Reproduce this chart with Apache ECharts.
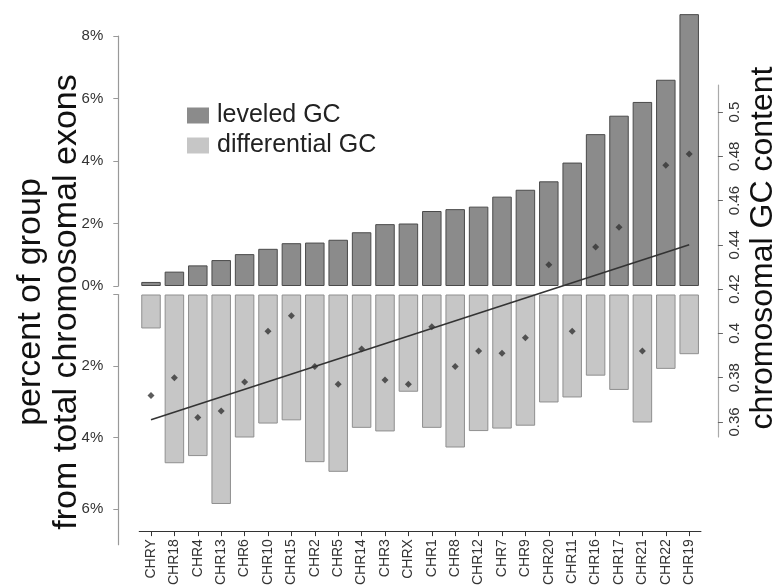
<!DOCTYPE html>
<html>
<head>
<meta charset="utf-8">
<script src="https://cdn.jsdelivr.net/npm/echarts@6/dist/echarts.min.js"></script>
<style>
html,body{margin:0;padding:0;background:#fff;}
#chart{width:777px;height:588px;}
</style>
</head>
<body>
<div id="chart"></div>
<script>
var categories = ['CHRY','CHR18','CHR4','CHR13','CHR6','CHR10','CHR15','CHR2','CHR5','CHR14','CHR3','CHRX','CHR1','CHR8','CHR12','CHR7','CHR9','CHR20','CHR11','CHR16','CHR17','CHR21','CHR22','CHR19'];
var leveledGC = [0.13,0.46,0.66,0.83,1.02,1.19,1.37,1.39,1.48,1.72,1.98,2.00,2.40,2.46,2.54,2.86,3.08,3.35,3.95,4.86,5.45,5.89,6.60,8.70];
var differentialGC = [0.95,4.72,4.52,5.86,4.00,3.61,3.52,4.69,4.96,3.73,3.83,2.72,3.73,4.28,3.82,3.75,3.67,3.02,2.88,2.27,2.67,3.58,2.08,1.67];
var gcContent = [0.372,0.380,0.362,0.365,0.378,0.401,0.408,0.385,0.377,0.393,0.379,0.377,0.403,0.385,0.392,0.391,0.398,0.431,0.401,0.439,0.448,0.392,0.476,0.481];
var trendStart = 0.361, trendEnd = 0.440;
var pctTicksTop = [0,2,4,6,8];
var pctTicksBottom = [0,2,4,6];
var pctLabelsBottom = [2,4,6];
var gcTicks = [0.36,0.38,0.40,0.42,0.44,0.46,0.48,0.50];

var FONT = "'Liberation Sans', Arial, sans-serif";
var GL = 139.3, GW = 561.6;
var chart = echarts.init(document.getElementById('chart'), null, {renderer:'canvas'});

function hiddenX(gi){
  return {type:'category', gridIndex:gi, data:categories, show:false, boundaryGap:true};
}
var option = {
  animation:false,
  backgroundColor:'#fff',
  grid:[
    {left:GL, width:GW, top:36, height:250},
    {left:GL, width:GW, top:294.5, height:250.25},
    {left:GL, width:GW, top:85, height:352},
    {left:GL, width:GW, top:294, height:242}
  ],
  xAxis:[
    hiddenX(0), hiddenX(1), hiddenX(2),
    {type:'category', gridIndex:3, data:categories, boundaryGap:true, position:'bottom',
     axisLine:{show:true, lineStyle:{color:'#333', width:1.2}},
     axisTick:{show:true, alignWithLabel:true, length:5, lineStyle:{color:'#333'}},
     axisLabel:{rotate:90, interval:0, margin:8, fontFamily:FONT, fontSize:14, color:'#333'}}
  ],
  yAxis:[
    {type:'value', gridIndex:0, min:0, max:8, interval:2, position:'left', offset:21,
     axisLine:{show:true, lineStyle:{color:'#999', width:1.2}},
     axisTick:{show:true, length:5, lineStyle:{color:'#999'}},
     splitLine:{show:false},
     axisLabel:{margin:15, fontFamily:FONT, fontSize:15, color:'#333', formatter:function(v){return v+'%';}}},
    {type:'value', gridIndex:1, min:0, max:7, inverse:true, position:'left', offset:21,
     axisLine:{show:true, lineStyle:{color:'#999', width:1.2}},
     axisTick:{show:true, length:5, customValues:pctTicksBottom, lineStyle:{color:'#999'}},
     splitLine:{show:false},
     axisLabel:{margin:15, fontFamily:FONT, fontSize:15, color:'#333', customValues:pctLabelsBottom, formatter:function(v){return v+'%';}}},
    {type:'value', gridIndex:2, min:0.3532, max:0.5122, position:'right', offset:17,
     axisLine:{show:true, lineStyle:{color:'#aaa', width:1.2}},
     axisTick:{show:true, length:5, customValues:gcTicks, lineStyle:{color:'#666'}},
     splitLine:{show:false},
     axisLabel:{rotate:90, margin:9, fontFamily:FONT, fontSize:15, color:'#333', customValues:gcTicks,
       formatter:function(v){return String(Math.round(v*100)/100);}}},
    {type:'value', gridIndex:3, show:false, min:0, max:1}
  ],
  legend:{
    orient:'vertical', left:187, top:103, padding:0, itemWidth:22, itemHeight:16, itemGap:5,
    icon:'rect',
    textStyle:{fontFamily:FONT, fontSize:25, color:'#222', lineHeight:25, padding:[0,0,0,3]},
    itemStyle:{borderWidth:0},
    data:['leveled GC','differential GC']
  },
  graphic:[
    {type:'text', x:31, y:302, rotation:Math.PI/2,
     style:{text:'percent of group', font:'34px '+FONT, fill:'#111', align:'center', verticalAlign:'middle'}},
    {type:'text', x:67, y:302, rotation:Math.PI/2,
     style:{text:'from total chromosomal exons', font:'34px '+FONT, fill:'#111', align:'center', verticalAlign:'middle'}},
    {type:'text', x:763, y:248, rotation:Math.PI/2,
     style:{text:'chromosomal GC content', font:'32px '+FONT, fill:'#111', align:'center', verticalAlign:'middle'}}
  ],
  series:[
    {name:'leveled GC', type:'bar', xAxisIndex:0, yAxisIndex:0, data:leveledGC, barWidth:19.5, clip:false,
     itemStyle:{color:'#8b8b8b', borderColor:'#4a4a4a', borderWidth:1}},
    {name:'differential GC', type:'bar', xAxisIndex:1, yAxisIndex:1, data:differentialGC, barWidth:19.5, clip:false,
     itemStyle:{color:'#c6c6c6', borderColor:'#8f8f8f', borderWidth:1}},
    {name:'trend', type:'line', xAxisIndex:2, yAxisIndex:2, data:[[0,trendStart],[categories.length-1,trendEnd]],
     symbol:'none', lineStyle:{color:'#333', width:1.6}, z:5},
    {name:'GC content', type:'scatter', xAxisIndex:2, yAxisIndex:2, data:gcContent,
     symbol:'diamond', symbolSize:7, itemStyle:{color:'#333'}, z:6}
  ]
};
chart.setOption(option);
</script>
</body>
</html>
